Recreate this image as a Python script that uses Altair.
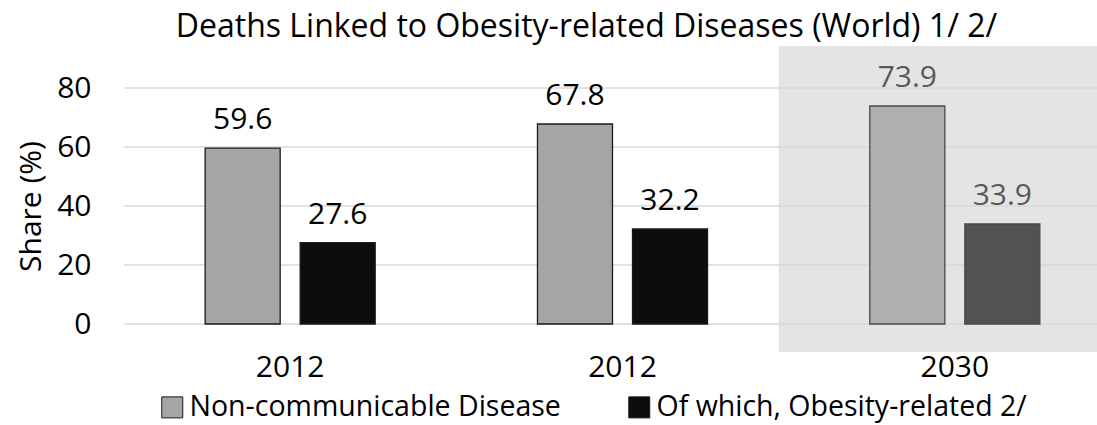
import altair as alt
import pandas as pd

groups = ["2012 (a)", "2012 (b)", "2030"]
series = ["Non-communicable Disease", "Of which, Obesity-related 2/"]
ncd = [59.6, 67.8, 73.9]
obesity = [27.6, 32.2, 33.9]
y_ticks = [0, 20, 40, 60, 80]
title = "Deaths Linked to Obesity-related Diseases (World) 1/ 2/"
projection_group = "2030"

rows = []
for g, a, b in zip(groups, ncd, obesity):
    rows.append({"group": g, "series": series[0], "value": a})
    rows.append({"group": g, "series": series[1], "value": b})
df = pd.DataFrame(rows)
ticks_df = pd.DataFrame({"tick": y_ticks})
shade_df = pd.DataFrame({"group": [projection_group]})

FONT = "Open Sans"
FS = 30
W, H = 973, 236

xscale = alt.Scale(domain=groups, range=[0, 997], paddingInner=0, paddingOuter=0)
offscale = alt.Scale(domain=series, paddingInner=0.2105, paddingOuter=0.854)
yscale = alt.Scale(domain=[0, 80], nice=False)

x_enc = alt.X(
    "group:N",
    scale=xscale,
    sort=groups,
    axis=alt.Axis(
        title=None,
        labelExpr="slice(datum.label, 0, 4)",
        labelAngle=0,
        labelAlign="center",
        bandPosition=0.5,
        domain=False,
        ticks=False,
        labelFont=FONT,
        labelFontSize=FS,
        labelColor="#000000",
        labelPadding=43,
    ),
)
y_enc = alt.Y(
    "value:Q",
    scale=yscale,
    axis=alt.Axis(
        title="Share (%)",
        values=y_ticks,
        grid=False,
        domain=False,
        ticks=False,
        labelFont=FONT,
        labelFontSize=FS,
        labelColor="#000000",
        labelPadding=33,
        titleFont=FONT,
        titleFontSize=FS,
        titleFontWeight="normal",
        titleColor="#000000",
        titlePadding=10,
    ),
)

shade = alt.Chart(shade_df).mark_rect(color="#E4E4E4", xOffset=-10).encode(
    x=alt.X("group:N", scale=xscale, sort=groups),
    y=alt.value(-42),
    y2=alt.value(264),
)

grid = alt.Chart(ticks_df).mark_rule(color="#D9D9D9", strokeWidth=1.5).encode(
    y=alt.Y("tick:Q", scale=yscale),
    x=alt.value(0),
    x2=alt.value(W),
)

bars = alt.Chart(df).transform_filter(
    alt.datum.group != projection_group
).mark_bar(stroke="#1a1a1a", strokeWidth=1.3).encode(
    x=x_enc,
    xOffset=alt.XOffset("series:N", scale=offscale, sort=series),
    y=y_enc,
    color=alt.Color(
        "series:N",
        scale=alt.Scale(domain=series, range=["#A5A5A5", "#0D0D0D"]),
        legend=alt.Legend(
            title=None,
            orient="none",
            direction="horizontal",
            legendX=34,
            legendY=305,
            symbolType="square",
            symbolSize=441,
            symbolStrokeColor="#1a1a1a",
            symbolStrokeWidth=1,
            labelFont=FONT,
            labelFontSize=28.5,
            labelColor="#000000",
            labelOffset=3,
            labelLimit=700,
            columnPadding=64,
        ),
    ),
)

bars_proj = alt.Chart(df).transform_filter(
    alt.datum.group == projection_group
).mark_bar(stroke="#4a4a4a", strokeWidth=1.3).encode(
    x=alt.X("group:N", scale=xscale, sort=groups),
    xOffset=alt.XOffset("series:N", scale=offscale, sort=series),
    y=alt.Y("value:Q", scale=yscale),
    fill=alt.Fill(
        "series:N",
        scale=alt.Scale(domain=series, range=["#AFAFAF", "#525252"]),
        legend=None,
    ),
)

labels = alt.Chart(df).mark_text(
    font=FONT, fontSize=FS, baseline="alphabetic", dy=-19
).encode(
    x=alt.X("group:N", scale=xscale, sort=groups),
    xOffset=alt.XOffset("series:N", scale=offscale, sort=series),
    y=alt.Y("value:Q", scale=yscale),
    text=alt.Text("value:Q", format=".1f"),
    color=alt.condition(
        alt.datum.group == projection_group, alt.value("#595959"), alt.value("#000000")
    ),
)

chart = alt.layer(shade, grid, bars, bars_proj, labels).properties(
    width=W,
    height=H,
    title=alt.TitleParams(
        text=title,
        font=FONT,
        fontSize=32,
        fontWeight="normal",
        color="#000000",
        anchor="middle",
        dx=-24,
        offset=2,
    ),
    autosize=alt.AutoSizeParams(type="none"),
    padding={"left": 124, "top": 88, "right": 0, "bottom": 101},
).configure_view(stroke=None)

chart.save("out.html", embed_options={"renderer": "svg", "actions": False})
